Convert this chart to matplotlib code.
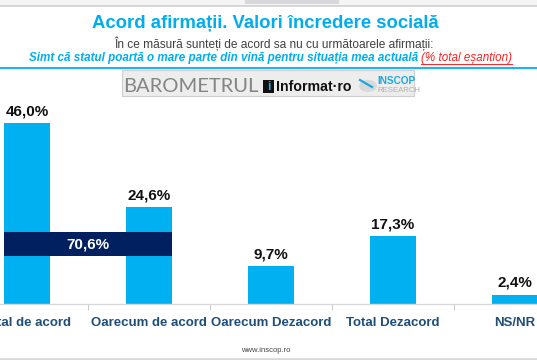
import matplotlib
matplotlib.use("Agg")
import matplotlib.pyplot as plt
from matplotlib.patches import Rectangle, Circle
from matplotlib.lines import Line2D

categories = ["Total de acord", "Oarecum de acord", "Oarecum Dezacord", "Total Dezacord", "NS/NR"]
values = [46.0, 24.6, 9.7, 17.3, 2.4]
value_labels = ["46,0%", "24,6%", "9,7%", "17,3%", "2,4%"]
combined_value = 70.6
combined_label = "70,6%"

W, H = 537, 360
fig = plt.figure(figsize=(W / 100, H / 100), dpi=100)
fig.patch.set_facecolor("white")
FONT = ["Liberation Sans", "DejaVu Sans"]

def fx(px):
    return px / W

def fy(py):
    return 1 - py / H

# top grey strip
fig.add_artist(Rectangle((0, fy(5)), 1, 5 / H, transform=fig.transFigure, facecolor="#f4f4f4", edgecolor="none"))
fig.add_artist(Rectangle((fx(245), fy(4)), fx(339) - fx(245), 4 / H, transform=fig.transFigure, facecolor="#d7d7dc", edgecolor="none"))
fig.add_artist(Line2D([0, 1], [fy(5.5), fy(5.5)], transform=fig.transFigure, color="#cfcfcf", lw=1.2))

# titles
fig.text(fx(265), fy(24), "Acord afirmații. Valori încredere socială", ha="center", va="center",
         color="#00AEEF", fontsize=13.3, fontweight="bold", family=FONT)
fig.text(fx(274), fy(44), "În ce măsură sunteți de acord sa nu cu următoarele afirmații:", ha="center", va="center",
         color="#404040", fontsize=8.6, family=FONT)
t1 = fig.text(fx(29), fy(58), "Simt că statul poartă o mare parte din vină pentru situația mea actuală ",
              ha="left", va="center", color="#00AEEF", fontsize=8.4, fontweight="bold", style="italic", family=FONT)
fig.canvas.draw()
bb = t1.get_window_extent()
t2 = fig.text(bb.x1 / W, fy(58), "(% total eșantion)", ha="left", va="center", color="#FF2020",
              fontsize=8.4, style="italic", family=FONT)
fig.canvas.draw()
bb2 = t2.get_window_extent()
fig.add_artist(Line2D([bb2.x0 / W, bb2.x1 / W], [fy(63.5), fy(63.5)], transform=fig.transFigure, color="#FF2020", lw=0.7))
fig.add_artist(Line2D([0, 1], [fy(67.5), fy(67.5)], transform=fig.transFigure, color="#1EB4F0", lw=1.5))

# logo banner
fig.add_artist(Rectangle((fx(122), fy(96)), fx(414) - fx(122), 26 / H, transform=fig.transFigure,
                         facecolor="#ededed", edgecolor="#cfcfcf", lw=0.8))
fig.text(fx(123), fy(86), "BAROMETRUL", ha="left", va="center", color="#858585", fontsize=14.5,
         family=["Lato", "DejaVu Sans"])
fig.add_artist(Rectangle((fx(263), fy(93)), 11 / W, 13 / H, transform=fig.transFigure, facecolor="#111111", edgecolor="none"))
fig.text(fx(268.5), fy(86.5), "i", ha="center", va="center", color="#2aa8e0", fontsize=8.5, fontweight="bold", family=FONT)
fig.text(fx(276), fy(87), "Informat·ro", ha="left", va="center", color="#111111", fontsize=10.2, fontweight="bold", family=FONT)
fig.add_artist(Circle((fx(368), fy(86)), 9 / W, transform=fig.transFigure, facecolor="#d9d9d9", edgecolor="none"))
fig.add_artist(Line2D([fx(360), fx(372)], [fy(80), fy(87)], transform=fig.transFigure, color="#1CA9E1", lw=1.6))
fig.text(fx(377), fy(81), "INSCOP", ha="left", va="center", color="#1CA9E1", fontsize=7.2, fontweight="bold", family=FONT)
fig.text(fx(377), fy(90.5), "RESEARCH", ha="left", va="center", color="#b0b0b0", fontsize=5.6, family=FONT)

# chart axes
px_per_unit = 3.93
ymax = 50
ax = fig.add_axes([fx(-34), (H - 304) / H, 610 / W, ymax * px_per_unit / H])
x = list(range(len(categories)))
bw = 0.38
ax.bar(x, values, width=bw, color="#00B0F0", zorder=2)
for xi, v, lab in zip(x, values, value_labels):
    ax.annotate(lab, (xi, v), xytext=(0, 3.5), textcoords="offset points", ha="center", va="bottom",
                fontsize=11, fontweight="bold", color="#111111", family=FONT)

# combined band over first two bars
band_lo, band_hi = 12.2, 18.3
ax.barh((band_lo + band_hi) / 2, (x[1] + bw / 2) - (x[0] - bw / 2), left=x[0] - bw / 2,
        height=band_hi - band_lo, color="#002060", zorder=3)
ax.text((x[0] + x[1]) / 2, (band_lo + band_hi) / 2, combined_label, ha="center", va="center",
        color="white", fontsize=11, fontweight="bold", family=FONT, zorder=4)

ax.set_xlim(-0.5, len(categories) - 0.5)
ax.set_ylim(0, ymax)
for s in ["top", "right", "left"]:
    ax.spines[s].set_visible(False)
ax.spines["bottom"].set_color("#d9d9d9")
ax.spines["bottom"].set_linewidth(1.0)
ax.set_yticks([])
ax.set_xticks(x)
ax.set_xticklabels(categories, fontsize=9.5, fontweight="bold", color="#1F4E79", family=FONT)
ax.set_xticks([i + 0.5 for i in x[:-1]], minor=True)
ax.tick_params(axis="x", which="major", length=0, pad=9)
ax.tick_params(axis="x", which="minor", length=4, color="#bfbfbf", direction="out")
ax.set_facecolor("none")

# footer
fig.text(fx(266), fy(351), "www.inscop.ro", ha="center", va="center", color="#444444", fontsize=5.5, family=FONT)
fig.add_artist(Line2D([0, 1], [fy(359), fy(359)], transform=fig.transFigure, color="#d9d9d9", lw=2))

fig.savefig("out.png", dpi=100)
